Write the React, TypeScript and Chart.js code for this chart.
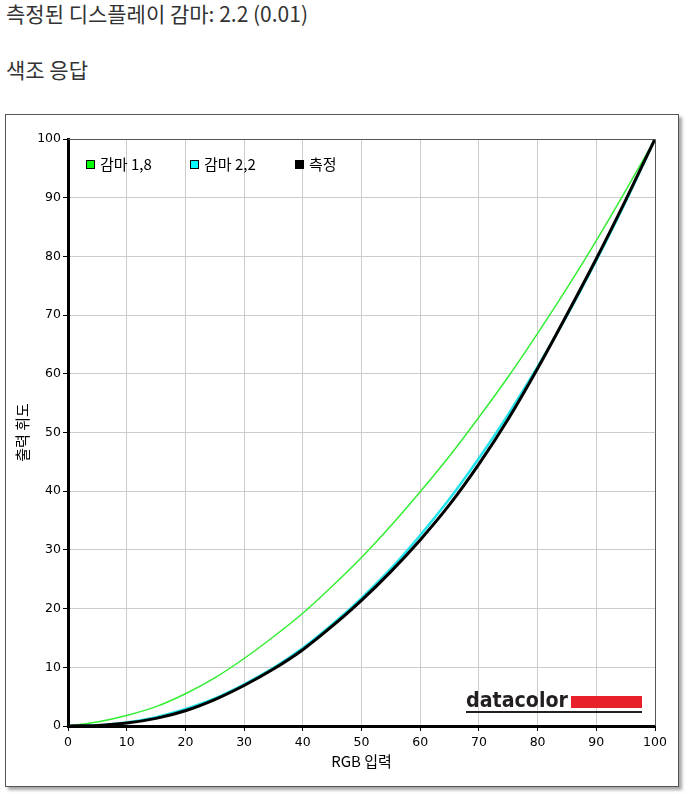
import { useEffect, useRef } from "react";
import { Chart, registerables } from "chart.js";

Chart.register(...registerables);

// ─── Data ─────────────────────────────────────────────────────────────────────
const rgbInput = [0, 5, 10, 15, 20, 25, 30, 35, 40, 45, 50, 55, 60, 65, 70, 75, 80, 85, 90, 95, 100];
const gamma18  = [0, 0.7, 1.8, 3.3, 5.5, 8.2, 11.5, 15.2, 19.2, 23.8, 28.7, 34.1, 39.9, 46.0, 52.6, 59.5, 66.9, 74.6, 82.7, 91.2, 100];
const gamma22  = [0, 0.1, 0.6, 1.5, 2.9, 4.7, 7.1, 9.9, 13.3, 17.3, 21.8, 26.8, 32.5, 38.7, 45.6, 53.1, 61.2, 69.9, 79.3, 89.3, 100];
const measured = [0, 0.1, 0.5, 1.3, 2.6, 4.5, 6.9, 9.7, 13.0, 17.0, 21.4, 26.3, 31.7, 37.7, 44.6, 52.3, 60.9, 70.1, 79.6, 89.6, 100];

const xTicks = [0, 10, 20, 30, 40, 50, 60, 70, 80, 90, 100];
const yTicks = [0, 10, 20, 30, 40, 50, 60, 70, 80, 90, 100];

const seriesLabels = ["감마 1,8", "감마 2,2", "측정"];
const seriesColors = ["#00ff00", "#00ffff", "#000000"];
const lineColors   = ["#33ee33", "#22e4ec", "#000000"];

const TICK_FONT = "'DejaVu Sans', sans-serif";
const KR_FONT = "'Noto Sans CJK KR', sans-serif";

// ─── Overlay: frame, legend, axis titles, logo ───────────────────────────────
const overlay = {
  id: "overlay",
  afterDraw(chart: any) {
    const { ctx, chartArea: a } = chart;
    ctx.save();

    // thin top / right frame
    ctx.strokeStyle = "#555555";
    ctx.lineWidth = 1;
    ctx.beginPath();
    ctx.moveTo(a.left, a.top + 0.5);
    ctx.lineTo(a.right + 0.5, a.top + 0.5);
    ctx.lineTo(a.right + 0.5, a.bottom);
    ctx.stroke();

    // legend
    const boxX = [a.left + 18, a.left + 122, a.left + 227];
    ctx.font = `15px ${KR_FONT}`;
    ctx.textBaseline = "middle";
    ctx.textAlign = "left";
    seriesLabels.forEach((label, i) => {
      const x = boxX[i];
      const y = a.top + 21;
      ctx.fillStyle = seriesColors[i];
      ctx.fillRect(x, y, 9, 9);
      ctx.strokeStyle = "#000";
      ctx.strokeRect(x + 0.5, y + 0.5, 8, 8);
      ctx.fillStyle = "#000";
      ctx.fillText(label, x + 14, y + 4.5);
    });

    // axis titles
    ctx.fillStyle = "#000";
    ctx.font = `15px ${KR_FONT}`;
    ctx.textAlign = "center";
    ctx.fillText("RGB 입력", (a.left + a.right) / 2, a.bottom + 35);
    ctx.save();
    ctx.translate(16, (a.top + a.bottom) / 2);
    ctx.rotate(-Math.PI / 2);
    ctx.fillText("출력 휘도", 0, 0);
    ctx.restore();

    // datacolor logo
    ctx.textAlign = "left";
    ctx.textBaseline = "alphabetic";
    ctx.fillStyle = "#231f20";
    ctx.font = `bold 22px 'DejaVu Sans', sans-serif`;
    ctx.fillText("datacolor", a.right - 189, a.bottom - 19, 102);
    ctx.fillStyle = "#e8202a";
    ctx.fillRect(a.right - 84, a.bottom - 30, 71, 12);
    ctx.fillStyle = "#231f20";
    ctx.fillRect(a.right - 189, a.bottom - 15, 176, 2);

    ctx.restore();
  },
};

// ─── Component ────────────────────────────────────────────────────────────────
export default function App() {
  const canvasRef = useRef<HTMLCanvasElement | null>(null);

  useEffect(() => {
    if (!canvasRef.current) return;
    const toPoints = (ys: number[]) => rgbInput.map((x, i) => ({ x, y: ys[i] }));

    const chart = new Chart(canvasRef.current, {
      type: "line",
      data: {
        datasets: [
          { label: seriesLabels[0], data: toPoints(gamma18),  borderColor: lineColors[0], borderWidth: 1.5, order: 3 },
          { label: seriesLabels[1], data: toPoints(gamma22),  borderColor: lineColors[1], borderWidth: 2.5, order: 2 },
          { label: seriesLabels[2], data: toPoints(measured), borderColor: lineColors[2], borderWidth: 3,   order: 1 },
        ],
      },
      options: {
        responsive: false,
        animation: false,
        layout: { padding: { left: 12, top: 24, right: 23, bottom: 20 } },
        elements: {
          point: { radius: 0 },
          line: { cubicInterpolationMode: "monotone", fill: false },
        },
        plugins: {
          legend: { display: false },
          tooltip: { enabled: false },
        },
        scales: {
          x: {
            type: "linear",
            min: 0,
            max: 100,
            afterFit: (s: any) => { s.height = 40; },
            afterBuildTicks: (s: any) => { s.ticks = xTicks.map((v) => ({ value: v })); },
            grid: { color: "#cccccc", lineWidth: 1, tickLength: 5, tickColor: "#000000" },
            border: { display: true, color: "#000000", width: 3 },
            ticks: { color: "#000", padding: 4, maxRotation: 0, font: { family: TICK_FONT, size: 12.5 } },
          },
          y: {
            type: "linear",
            min: 0,
            max: 100,
            afterFit: (s: any) => { s.width = 50; },
            afterBuildTicks: (s: any) => { s.ticks = yTicks.map((v) => ({ value: v })); },
            grid: { color: "#cccccc", lineWidth: 1, tickLength: 5, tickColor: "#000000" },
            border: { display: true, color: "#000000", width: 3 },
            ticks: { color: "#000", padding: 2, font: { family: TICK_FONT, size: 12.5 } },
          },
        },
      },
      plugins: [overlay],
    });

    return () => chart.destroy();
  }, []);

  return (
    <>
      <style>{`body { margin: 0; background: #ffffff; }`}</style>
      <div style={{ position: "relative", width: 689, height: 794, fontFamily: KR_FONT, color: "#333333" }}>
        <div style={{ position: "absolute", left: 6, top: -1, fontSize: 21, lineHeight: "28px" }}>
          측정된 디스플레이 감마: 2.2 (0.01)
        </div>
        <div style={{ position: "absolute", left: 6, top: 55, fontSize: 21, lineHeight: "28px" }}>
          색조 응답
        </div>
        <div
          style={{
            position: "absolute",
            left: 5,
            top: 114,
            width: 672,
            height: 671,
            border: "1px solid #555555",
            background: "#ffffff",
            boxShadow: "3px 3px 3px rgba(0,0,0,0.35)",
          }}
        >
          <canvas ref={canvasRef} width={672} height={671} style={{ display: "block" }} />
        </div>
      </div>
    </>
  );
}
